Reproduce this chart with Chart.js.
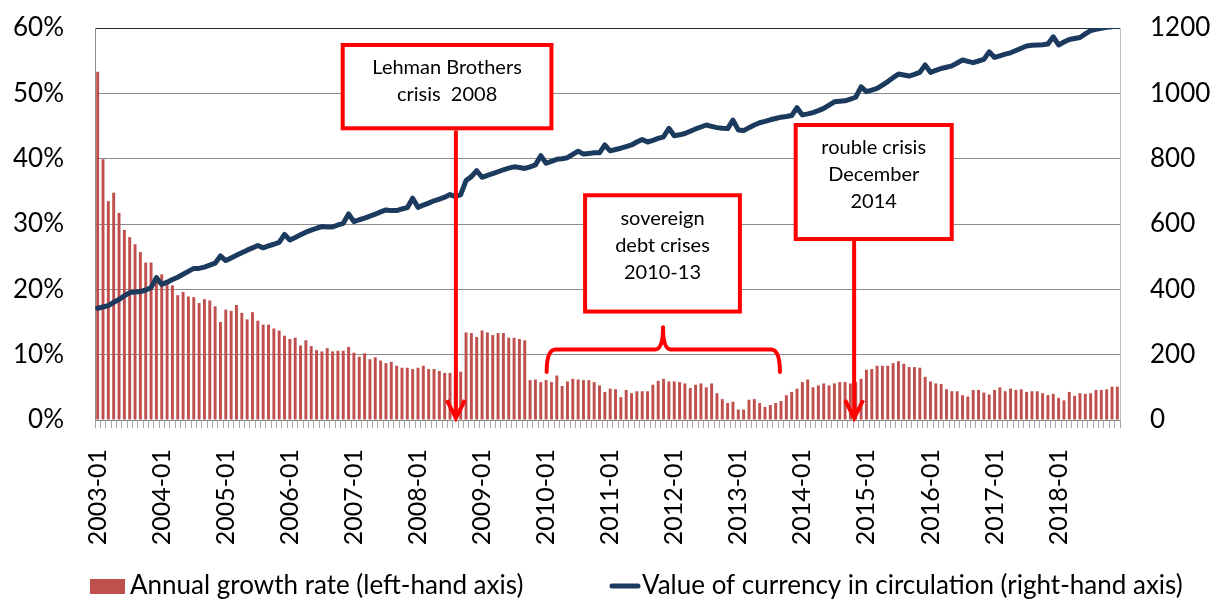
<!DOCTYPE html>
<html><head><meta charset="utf-8">
<script src="https://cdn.jsdelivr.net/npm/chart.js@4.4.0/dist/chart.umd.min.js"></script>
<style>html,body{margin:0;padding:0;background:#fff;}#wrap{width:1219px;height:601px;position:relative;}canvas{display:block;}</style>
</head><body><div id="wrap"><canvas id="c" width="1219" height="601"></canvas></div>
<script>
// ---- data ----
const years = ['2003','2004','2005','2006','2007','2008','2009','2010','2011','2012','2013','2014','2015','2016','2017','2018'];
const monthNums = ['01','02','03','04','05','06','07','08','09','10','11','12'];
const categories = [];
years.forEach(y => monthNums.forEach(m => categories.push(y + '-' + m)));

// Annual growth rate (%), left-hand axis
const growthRate = [
  53.3, 39.9, 33.5, 34.8, 31.7, 29.1, 28.0, 26.9, 25.7, 24.1, 24.1, 21.9,
  22.3, 20.9, 20.6, 19.1, 19.6, 18.9, 18.8, 17.9, 18.5, 18.3, 17.4, 15.0,
  16.9, 16.7, 17.6, 16.4, 15.4, 16.5, 15.2, 14.6, 14.6, 14.0, 13.7, 12.9,
  12.4, 12.6, 11.4, 12.2, 11.3, 10.7, 10.5, 11.0, 10.5, 10.6, 10.6, 11.2,
  10.3, 9.7, 10.2, 9.3, 9.6, 9.1, 8.7, 8.9, 8.3, 8.0, 8.0, 7.8,
  8.0, 8.3, 7.8, 7.8, 7.5, 7.2, 7.2, 7.4, 7.4, 13.4, 13.3, 12.7,
  13.7, 13.4, 13.0, 13.3, 13.3, 12.6, 12.6, 12.4, 12.2, 6.1, 6.2, 5.8,
  6.1, 5.8, 6.8, 5.2, 5.9, 6.3, 6.2, 6.1, 6.1, 5.8, 5.3, 4.3,
  4.8, 4.7, 3.5, 4.6, 4.1, 4.4, 4.4, 4.4, 5.4, 6.0, 6.3, 5.9,
  5.9, 5.8, 5.6, 4.9, 5.4, 5.6, 5.0, 5.6, 4.1, 3.2, 2.6, 2.8,
  1.6, 1.6, 3.1, 3.2, 2.6, 2.0, 2.3, 2.6, 2.9, 3.8, 4.3, 4.8,
  5.8, 6.2, 5.0, 5.3, 5.6, 5.3, 5.6, 5.8, 5.8, 5.6, 5.8, 6.3,
  7.7, 7.8, 8.3, 8.3, 8.3, 8.7, 9.0, 8.6, 8.1, 8.1, 8.0, 6.6,
  5.9, 5.6, 5.5, 4.7, 4.4, 4.4, 3.8, 3.6, 4.6, 4.6, 4.2, 3.9,
  4.6, 5.0, 4.4, 4.8, 4.6, 4.7, 4.3, 4.4, 4.4, 4.1, 3.8, 4.0,
  3.4, 3.0, 4.3, 3.7, 4.1, 4.0, 4.1, 4.6, 4.6, 4.7, 5.1, 5.1
];

// Value of currency in circulation, right-hand axis
const currencyValue = [
  342, 346, 350, 360, 369, 380, 390, 392, 393, 398, 405, 436,
  415, 422, 430, 437, 446, 455, 464, 464, 468, 474, 480, 502,
  488, 496, 504, 512, 520, 527, 534, 527, 533, 538, 544, 568,
  551, 559, 567, 575, 581, 587, 592, 591, 591, 597, 602, 631,
  607, 613, 618, 624, 630, 637, 643, 641, 641, 646, 650, 679,
  651, 658, 664, 671, 676, 682, 690, 684, 690, 733, 745, 763,
  743, 749, 754, 760, 766, 771, 775, 773, 770, 775, 781, 809,
  786, 792, 798, 800, 803, 813, 823, 814, 816, 818, 818, 842,
  824, 828, 832, 837, 842, 851, 859, 851, 856, 862, 867, 893,
  870, 873, 877, 884, 891, 897, 903, 899, 895, 893, 892, 918,
  888, 886, 895, 903, 910, 914, 919, 923, 927, 929, 932, 956,
  934, 937, 941, 947, 954, 964, 974, 976, 977, 982, 988, 1020,
  1005, 1010, 1015, 1025, 1036, 1048, 1059, 1056, 1053, 1058, 1064, 1087,
  1064, 1070, 1076, 1080, 1084, 1093, 1102, 1098, 1094, 1099, 1104, 1127,
  1110, 1115, 1120, 1124, 1131, 1138, 1145, 1147, 1148, 1149, 1151, 1173,
  1148, 1157, 1165, 1168, 1171, 1182, 1192, 1196, 1199, 1202, 1204, 1207
];

const leftTicks = [0, 10, 20, 30, 40, 50, 60];
const rightTicks = [0, 200, 400, 600, 800, 1000, 1200];
const seriesNames = ['Annual growth rate (left-hand axis)', 'Value of currency in circulation (right-hand axis)'];

// ---- annotations (anchored in data space: x = month index, y = % on left axis) ----
const noteBoxes = [
  { x1: 45.9, x2: 85.0, y1: 57.4, y2: 44.65, lines: ['Lehman Brothers', 'crisis  2008'] },
  { x1: 91.3, x2: 120.3, y1: 34.4, y2: 16.6, lines: ['sovereign', 'debt crises', '2010-13'] },
  { x1: 130.75, x2: 159.98, y1: 45.15, y2: 27.7, lines: ['rouble crisis', 'December', '2014'] }
];
const noteArrows = [
  { x: 67.1, from: 44.3, to: 0.3 },
  { x: 141.7, from: 27.7, to: 0.3 }
];
const noteBrace = { left: 84.1, right: 127.8, mid: 105.9, bar: 10.8, ends: 7.35, peak: 14.2 };

const RED = '#ff0000';
const FONT = 'Lato, "Open Sans", sans-serif';
const BAR_COLOR = '#c0504d';
const LINE_COLOR = '#1b3a5e';

const notesPlugin = {
  id: 'crisisNotes',
  afterDatasetsDraw(chart) {
    const ctx = chart.ctx;
    const xs = chart.scales.x, ys = chart.scales.y;
    const X = v => xs.getPixelForValue(v);
    const Y = v => ys.getPixelForValue(v);
    ctx.save();
    ctx.lineWidth = 4;
    ctx.strokeStyle = RED;
    const b = noteBrace;
    const xl = X(b.left), xr = X(b.right), xm = X(b.mid);
    const yb = Y(b.bar), ye = Y(b.ends), yp = Y(b.peak);
    ctx.lineCap = 'round';
    ctx.lineJoin = 'round';
    ctx.beginPath();
    ctx.moveTo(xl, ye);
    ctx.quadraticCurveTo(xl, yb, xl + 9, yb);
    ctx.lineTo(xm - 8, yb);
    ctx.quadraticCurveTo(xm, yb, xm, yp);
    ctx.quadraticCurveTo(xm, yb, xm + 8, yb);
    ctx.lineTo(xr - 9, yb);
    ctx.quadraticCurveTo(xr, yb, xr, ye);
    ctx.stroke();
    ctx.lineCap = 'butt';
    ctx.lineJoin = 'miter';
    noteArrows.forEach(a => {
      const x = X(a.x), y1 = Y(a.from), y2 = Y(a.to);
      ctx.beginPath();
      ctx.moveTo(x, y1);
      ctx.lineTo(x, y2 - 3);
      ctx.stroke();
      ctx.beginPath();
      ctx.moveTo(x - 9, y2 - 18);
      ctx.lineTo(x, y2);
      ctx.lineTo(x + 9, y2 - 18);
      ctx.stroke();
    });
    noteBoxes.forEach(n => {
      const x1 = X(n.x1), x2 = X(n.x2), y1 = Y(n.y1), y2 = Y(n.y2);
      ctx.fillStyle = '#ffffff';
      ctx.fillRect(x1, y1, x2 - x1, y2 - y1);
      ctx.strokeStyle = RED;
      ctx.lineWidth = 4;
      ctx.strokeRect(x1, y1, x2 - x1, y2 - y1);
      ctx.fillStyle = '#000000';
      ctx.font = '20px ' + FONT;
      ctx.textAlign = 'center';
      ctx.textBaseline = 'middle';
      n.lines.forEach((t, i) => ctx.fillText(t, (x1 + x2) / 2, y1 + 23 + i * 27));
    });
    ctx.restore();
  }
};

// legend drawn in the bottom strip reserved by layout padding
const legendPlugin = {
  id: 'bottomLegend',
  afterDraw(chart) {
    const ctx = chart.ctx;
    const ds = chart.data.datasets;
    const cy = chart.height - 15;
    ctx.save();
    ctx.font = '26px ' + FONT;
    ctx.textBaseline = 'middle';
    ctx.textAlign = 'left';
    ctx.fillStyle = ds[0].backgroundColor;
    ctx.fillRect(90, cy - 7, 35, 15);
    ctx.fillStyle = '#000';
    ctx.fillText(ds[0].label, 130, cy);
    ctx.strokeStyle = ds[1].borderColor;
    ctx.lineWidth = 5;
    ctx.lineCap = 'round';
    ctx.beginPath();
    ctx.moveTo(612, cy);
    ctx.lineTo(638, cy);
    ctx.stroke();
    ctx.fillText(ds[1].label, 642, cy);
    ctx.restore();
  }
};

const GRID = '#8c8c8c';
const NO_TICK = 'rgba(0,0,0,0)';

new Chart(document.getElementById('c'), {
  type: 'bar',
  data: {
    labels: categories,
    datasets: [
      {
        type: 'bar',
        label: seriesNames[0],
        data: growthRate,
        yAxisID: 'y',
        backgroundColor: BAR_COLOR,
        borderWidth: 0,
        barPercentage: 0.55,
        categoryPercentage: 1.0,
        order: 2
      },
      {
        type: 'line',
        label: seriesNames[1],
        data: currencyValue,
        yAxisID: 'y2',
        borderColor: LINE_COLOR,
        backgroundColor: LINE_COLOR,
        borderWidth: 5,
        borderCapStyle: 'round',
        borderJoinStyle: 'round',
        pointRadius: 0,
        tension: 0,
        order: 1
      }
    ]
  },
  options: {
    responsive: false,
    animation: false,
    devicePixelRatio: 1,
    layout: { padding: { top: 28, left: 10, right: 0, bottom: 40 } },
    plugins: {
      tooltip: { enabled: false },
      legend: { display: false }
    },
    scales: {
      x: {
        type: 'category',
        offset: true,
        grid: { display: true, drawOnChartArea: false, drawTicks: true, tickLength: 8, color: '#a6a6a6', offset: true },
        border: { display: true, color: GRID, width: 1 },
        ticks: {
          autoSkip: false,
          minRotation: 90,
          maxRotation: 90,
          padding: 21,
          color: '#000',
          font: { family: FONT, size: 25 },
          callback: function (v, i) { return i % 12 === 0 ? categories[i] : ''; }
        },
        afterFit: s => { s.height = 141; }
      },
      y: {
        position: 'left',
        min: 0, max: 60,
        afterBuildTicks: s => { s.ticks = leftTicks.map(v => ({ value: v })); },
        grid: { color: c => (c.tick && c.tick.value === 60 ? '#1f2d3d' : GRID), drawTicks: true, tickLength: 28, tickColor: NO_TICK, lineWidth: 1 },
        border: { display: true, color: GRID },
        ticks: { padding: 3, color: '#000', font: { family: FONT, size: 26 }, callback: v => v + '%' },
        afterFit: s => { s.width = 85; }
      },
      y2: {
        position: 'right',
        min: 0, max: 1200,
        afterBuildTicks: s => { s.ticks = rightTicks.map(v => ({ value: v })); },
        grid: { drawOnChartArea: false, drawTicks: true, tickLength: 27, tickColor: NO_TICK },
        border: { display: true, color: '#bfbfbf' },
        ticks: { padding: 3, color: '#000', font: { family: FONT, size: 26 }, callback: v => String(v) },
        afterFit: s => { s.width = 99; }
      }
    }
  },
  plugins: [notesPlugin, legendPlugin]
});
</script>
</body></html>
